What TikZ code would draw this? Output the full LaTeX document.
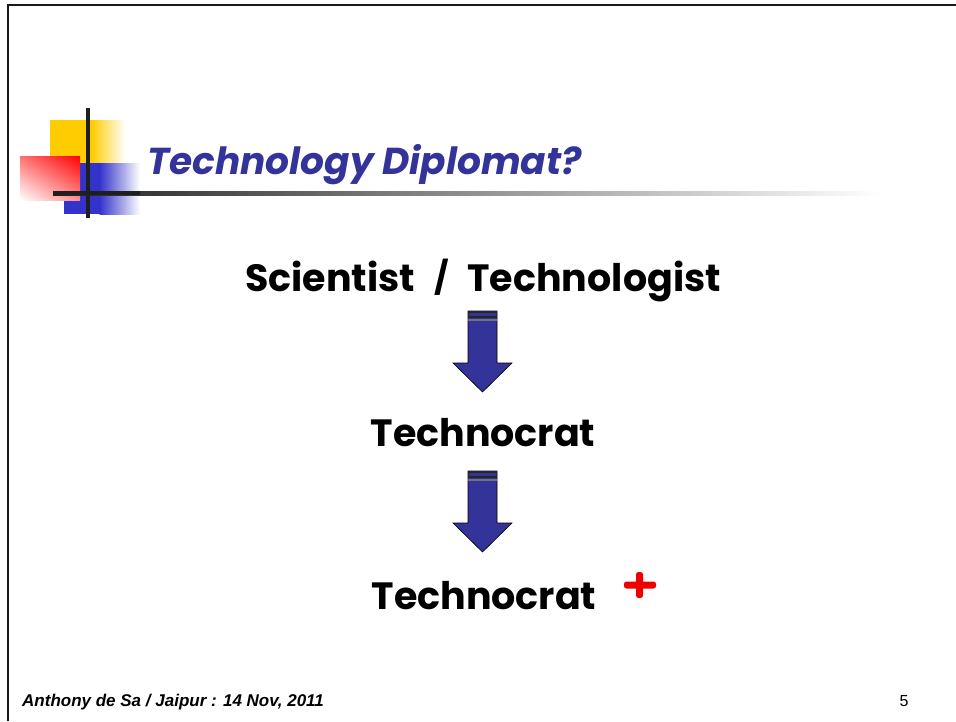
\documentclass[tikz,border=0pt]{standalone}
\usepackage{fontspec}
\usetikzlibrary{shadings}
\setmainfont{Liberation Sans}
\newfontfamily\comic{Poppins}
\definecolor{titleblue}{HTML}{333399}
\definecolor{arrowblue}{HTML}{333399}
\definecolor{decoyellow}{HTML}{FFCC00}
\definecolor{decoblue}{HTML}{3333CC}
\definecolor{plusred}{HTML}{EE0000}
\tikzset{
  bigtext/.style={font=\comic\bfseries\fontsize{38}{42}\selectfont, text=black, inner sep=0pt},
  downarrow/.style={fill=arrowblue, draw=black, line width=0.6pt, line join=miter},
}
\begin{document}
\begin{tikzpicture}[x=1pt,y=-1pt]
\useasboundingbox (0,0) rectangle (956,721);
\fill[white] (0,0) rectangle (956,721);
% frame
\draw[line width=2.5pt, black!90] (8,721) -- (8,5) -- (956,5);
% decoration squares
\fill[decoyellow] (50,120) rectangle (92,163);
\shade[left color=decoyellow, right color=white] (91.5,120) rectangle (125,163);
\fill[decoblue] (64,163) rectangle (100,214);
\shade[left color=decoblue, right color=white] (99.5,163) rectangle (140,214);
\shade[upper right=red, lower left=white, upper left=red!55, lower right=red!45] (20,156) rectangle (80,200);
% lines
\shade[left color=black!88, right color=white] (53,191) rectangle (880,195);
\fill[black!88] (53,191) rectangle (140,195);
\fill[black!88] (86,108) rectangle (90,218);
% title
\node[anchor=base west, inner sep=0pt, text=titleblue, font=\comic\bfseries\itshape\fontsize{37.5}{40}\selectfont] (title) at (147,174) {Technology Diplomat?};
% main texts
\node[bigtext, anchor=base] (sci) at (483,291) {Scientist\hspace{19pt}\raisebox{2pt}{\fontsize{32}{36}\selectfont /}\hspace{19pt}Technologist};
\node[bigtext, anchor=base] (tc1) at (483,446) {Technocrat};
\node[bigtext, anchor=base] (tc2) at (484,609) {Technocrat};
% arrows
\foreach \nm/\yy in {a1/311, a2/471} {
  \draw[downarrow] (468,\yy) -- (497,\yy) -- (497,\yy+52) -- (512,\yy+52) -- (482.5,\yy+81) -- (453,\yy+52) -- (468,\yy+52) -- cycle;
  \fill[black!85] (468,\yy) rectangle (497,\yy+2);
  \fill[black!85] (468,\yy+4.5) rectangle (497,\yy+6.5);
  \fill[black!55] (468,\yy+8) rectangle (497,\yy+9.5);
  \coordinate (\nm) at (482.5,\yy);
}
% red plus
\fill[plusred, rounded corners=2.5pt] (636,572) rectangle (643,598);
\fill[plusred, rounded corners=2.5pt] (624,581.5) rectangle (656,588.5);
\node[inner sep=0pt] (plus) at (640,585) {};
% footer
\node[anchor=base west, inner sep=0pt, font=\bfseries\itshape\fontsize{17}{20}\selectfont] (foot) at (22,706) {Anthony de Sa / Jaipur : 14 Nov, 2011};
\node[anchor=base, inner sep=0pt, font=\fontsize{16}{18}\selectfont] (page) at (904,706) {5};
\end{tikzpicture}
\end{document}
